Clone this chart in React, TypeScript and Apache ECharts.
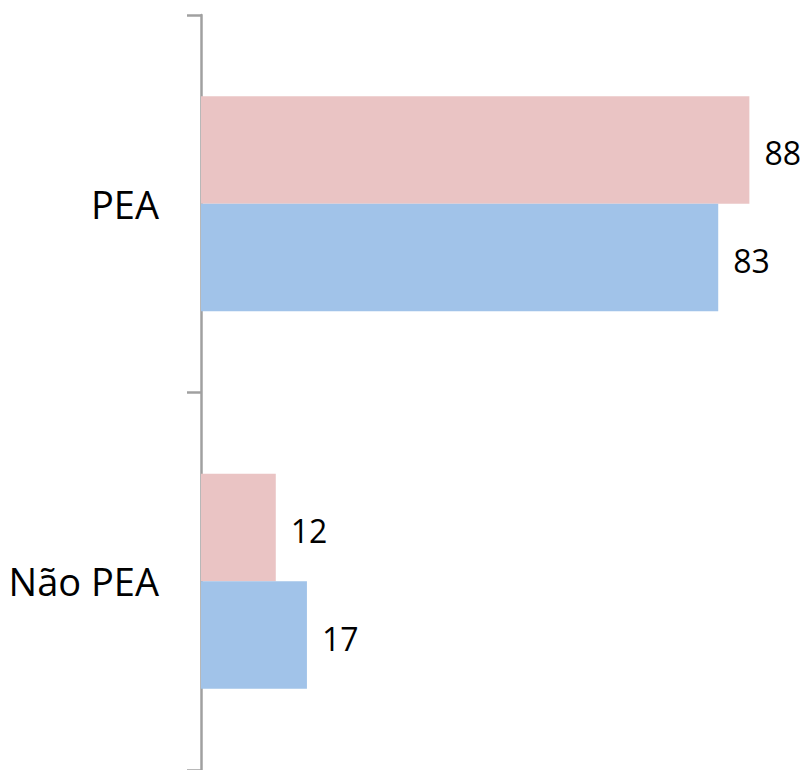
import React, { useEffect, useRef } from "react";
import * as echarts from "echarts";

const categories = ["PEA", "Não PEA"];
const seriesA = [88, 12];
const seriesB = [83, 17];

const FONT = "'Open Sans', 'Noto Sans', sans-serif";

export default function App() {
  const ref = useRef<HTMLDivElement>(null);
  useEffect(() => {
    if (!ref.current) return;
    const chart = echarts.init(ref.current, null, { renderer: "svg" });
    const label = {
      show: true,
      position: "right" as const,
      distance: 15,
      color: "#000",
      fontFamily: FONT,
      fontSize: 32,
      offset: [0, 3],
    };
    chart.setOption({
      animation: false,
      backgroundColor: "#ffffff",
      grid: { left: 201, top: 15, width: 592, height: 756 },
      xAxis: {
        type: "value",
        min: 0,
        max: 95,
        show: false,
      },
      yAxis: {
        type: "category",
        data: categories,
        inverse: true,
        axisLine: { show: true, lineStyle: { color: "#a0a0a0", width: 2.5 } },
        axisTick: { show: true, length: 14, lineStyle: { color: "#a0a0a0", width: 2.5 } },
        axisLabel: {
          margin: 42,
          color: "#000",
          fontFamily: FONT,
          fontSize: 38,
        },
        splitLine: { show: false },
      },
      series: [
        {
          type: "bar",
          data: seriesA,
          barGap: "0%",
          barCategoryGap: "43%",
          itemStyle: { color: "#eac4c4" },
          label,
        },
        {
          type: "bar",
          data: seriesB,
          itemStyle: { color: "#a1c3e9" },
          label,
        },
      ],
    });
    return () => chart.dispose();
  }, []);
  return (
    <div
      ref={ref}
      style={{ position: "fixed", left: 0, top: 0, width: 807, height: 770, background: "#fff" }}
    />
  );
}
